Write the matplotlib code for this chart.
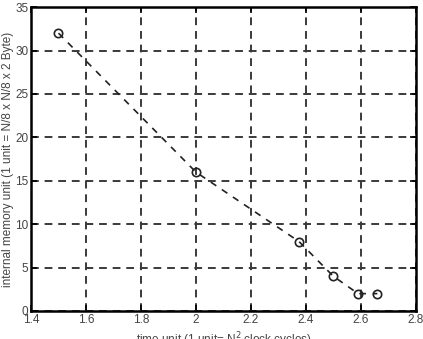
import matplotlib
matplotlib.use("Agg")
import matplotlib.pyplot as plt

plt.rcParams['font.family'] = ['Liberation Sans', 'DejaVu Sans']

# -- DATA --
time_unit = [1.5, 2.0, 2.375, 2.5, 2.59, 2.66]
memory_unit = [32, 16, 8, 4, 2, 2]
x_ticks = [1.4, 1.6, 1.8, 2.0, 2.2, 2.4, 2.6, 2.8]
x_tick_labels = ['1.4', '1.6', '1.8', '2', '2.2', '2.4', '2.6', '2.8']
y_ticks = [0, 5, 10, 15, 20, 25, 30, 35]

# -- PLOT --
fig = plt.figure(figsize=(4.23, 3.39), dpi=100)
ax = fig.add_axes([0.0733, 0.0826, 0.9097, 0.8964])

ax.plot(time_unit, memory_unit, color='#222222', linestyle=(0, (4, 4)), linewidth=1.2,
        marker='o', markersize=6, markerfacecolor='none', markeredgecolor='#222222',
        markeredgewidth=1.2)

ax.set_xlim(1.4, 2.8)
ax.set_ylim(0, 35)
ax.set_xticks(x_ticks)
ax.set_xticklabels(x_tick_labels)
ax.set_yticks(y_ticks)

ax.grid(True, color='#3a3a3a', linestyle=(0, (4, 3)), linewidth=1.4)
for s in ax.spines.values():
    s.set_linewidth(1.8)
ax.tick_params(direction='in', length=4, width=1.2, labelsize=8.5, colors='black',
               labelcolor='#444444', top=True, right=True, pad=2)

ax.set_ylabel('internal memory unit (1 unit = N/8 x N/8 x 2 Byte)', fontsize=8.5,
              color='#444444', labelpad=1)
ax.set_xlabel('time unit (1 unit= N$^2$ clock cycles)', fontsize=8.5,
              color='#444444', labelpad=3)

fig.savefig('out.png', dpi=100)
